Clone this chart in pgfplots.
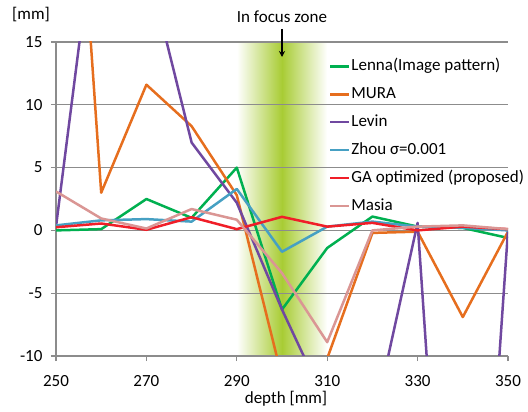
\documentclass[border=0pt]{standalone}
\usepackage{pgfplots}
\pgfplotsset{compat=1.18}
\usetikzlibrary{arrows.meta}
\usepackage{fontspec}
\setmainfont{Carlito}
\definecolor{cLenna}{RGB}{0,176,80}
\definecolor{cMura}{RGB}{230,110,30}
\definecolor{cLevin}{RGB}{112,72,160}
\definecolor{cZhou}{RGB}{70,160,195}
\definecolor{cGA}{RGB}{240,30,40}
\definecolor{cMasia}{RGB}{218,150,148}
\definecolor{cBand}{RGB}{168,204,52}
\definecolor{cGrid}{RGB}{140,140,140}
\begin{document}
\begin{tikzpicture}[font=\fontsize{17bp}{20bp}\selectfont]
\begin{axis}[
  name=ax,
  set layers,
  scale only axis,
  width=452bp, height=314bp,
  xmin=250, xmax=350, ymin=-10, ymax=15,
  xtick={250,270,...,350},
  ytick={-10,-5,0,5,10,15},
  /pgf/number format/assume math mode=true,
  axis x line*=bottom, axis y line*=left,
  axis line style={cGrid, line width=1.2bp, -},
  tick style={cGrid, line width=1.2bp},
  tick align=outside,
  major tick length=5bp,
  ymajorgrids,
  major grid style={cGrid, line width=1.1bp},
  xticklabel style={yshift=-11bp},
  yticklabel style={xshift=-5bp},
  xlabel={depth [mm]},
  xlabel style={yshift=2bp, xshift=4bp},
  legend style={draw=none, fill=none, at={(0.604,0.95)}, anchor=north west,
    row sep=10.8bp, inner sep=0pt, font=\fontsize{17bp}{20bp}\selectfont,
    legend cell align=left, nodes={inner sep=0.8bp, text height=12bp, text depth=3.5bp}},
  legend image code/.code={\draw[#1, line width=2.4bp] (0bp,0bp) -- (19bp,0bp);},
  every axis plot/.append style={line width=2.5bp, line join=round},
]
\begin{pgfonlayer}{axis background}
\fill[left color=white, right color=cBand] (axis cs:290,-10) rectangle (axis cs:300,15);
\fill[left color=cBand, right color=white] (axis cs:300,-10) rectangle (axis cs:310,15);
\end{pgfonlayer}
\addplot[cLenna] coordinates {(250,0.0) (260,0.1) (270,2.5) (280,1.0) (290,5.0) (300,-6.3) (310,-1.4) (320,1.1) (330,0.3) (340,0.2) (350,-0.6)};
\addlegendentry{Lenna(Image pattern)}
\addplot[cMura] coordinates {(250,55) (260,3.0) (270,11.6) (280,8.3) (290,2.8) (300,-11.7) (310,-10.2) (320,-0.2) (330,-0.1) (340,-6.9) (350,-0.1)};
\addlegendentry{MURA}
\addplot[cLevin] coordinates {(250,0.3) (260,28.6) (270,21.5) (280,7.0) (290,2.2) (300,-6.3) (310,-14) (320,-15.7) (330,0.6) (340,-52.4) (350,0.0)};
\addlegendentry{Levin}
\addplot[cZhou] coordinates {(250,0.4) (260,0.8) (270,0.9) (280,0.7) (290,3.3) (300,-1.7) (310,0.3) (320,0.7) (330,0.3) (340,0.2) (350,0.0)};
\addlegendentry{Zhou σ=0.001}
\addplot[cGA] coordinates {(250,0.25) (260,0.55) (270,0.05) (280,1.05) (290,0.1) (300,1.08) (310,0.3) (320,0.6) (330,0.0) (340,0.3) (350,0.1)};
\addlegendentry{GA optimized (proposed)}
\addplot[cMasia] coordinates {(250,3.1) (260,0.95) (270,0.15) (280,1.7) (290,0.85) (300,-3.4) (310,-8.9) (320,0.0) (330,0.3) (340,0.4) (350,0.1)};
\addlegendentry{Masia}
\end{axis}
\node at ([yshift=25bp]ax.north) {In focus zone};
\draw[line width=1.4bp, -{Stealth[length=6bp,width=6bp]}] ([yshift=13bp]ax.north) -- ([yshift=-15bp]ax.north);
\node at ([xshift=-25bp,yshift=27bp]ax.north west) {[mm]};
\pgfresetboundingbox
\path ([shift={(-56bp,-56bp)}]ax.south west) rectangle ([shift={(20bp,42bp)}]ax.north east);
\end{tikzpicture}
\end{document}
